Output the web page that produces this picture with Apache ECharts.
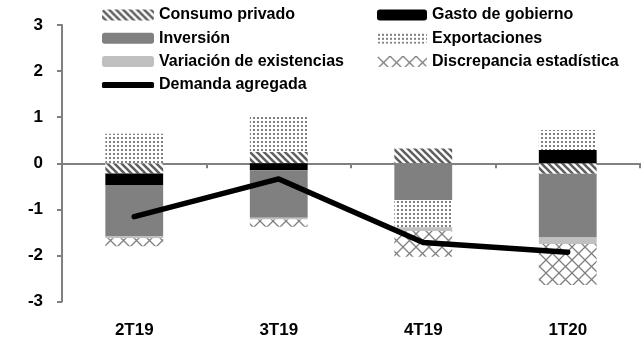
<!DOCTYPE html>
<html>
<head>
<meta charset="utf-8">
<script src="https://cdn.jsdelivr.net/npm/echarts@6/dist/echarts.min.js"></script>
<style>
  html, body { margin: 0; padding: 0; background: #fff; }
  #chart { width: 642px; height: 339px; }
</style>
</head>
<body>
<div id="chart"></div>
<script>
// datos (puntos porcentuales)
const trimestres = ['2T19', '3T19', '4T19', '1T20']
const consumoPrivado = [-0.22, 0.25, 0.32, -0.23]
const gastoGobierno = [-0.25, -0.15, 0, 0.29]
const inversion = [-1.12, -1.03, -0.80, -1.38]
const exportaciones = [0.64, 0.77, -0.59, 0.43]
const variacionExistencias = [-0.04, -0.04, -0.08, -0.14]
const discrepancia = [-0.17, -0.16, -0.56, -0.89]
const demandaAgregada = [-1.16, -0.34, -1.72, -1.93]
const yTicks = [-3, -2, -1, 0, 1, 2, 3]

const FONT = '"Liberation Sans", Arial, sans-serif'

// patrones de relleno
function makePattern(size, draw) {
  const c = document.createElement('canvas')
  c.width = size
  c.height = size
  const ctx = c.getContext('2d')
  ctx.fillStyle = '#fff'
  ctx.fillRect(0, 0, size, size)
  draw(ctx, size)
  return { image: c, repeat: 'repeat' }
}

const hatch = makePattern(7, (ctx, s) => {
  ctx.strokeStyle = '#606060'
  ctx.lineWidth = 2.6
  ctx.beginPath()
  for (let k = -1; k <= 1; k++) {
    ctx.moveTo(k * s - 1, -1)
    ctx.lineTo(k * s + s + 1, s + 1)
  }
  ctx.stroke()
})

const dots = makePattern(4, (ctx) => {
  ctx.fillStyle = '#808080'
  ctx.fillRect(1, 1, 2, 2)
})

const lattice = makePattern(13, (ctx, s) => {
  ctx.strokeStyle = '#808080'
  ctx.lineWidth = 1.3
  ctx.beginPath()
  ctx.moveTo(0, 0); ctx.lineTo(s, s)
  ctx.moveTo(s, 0); ctx.lineTo(0, s)
  ctx.stroke()
})

const chart = echarts.init(document.getElementById('chart'), null, { renderer: 'canvas' })

const barSeries = (name, data, color) => ({
  name: name,
  type: 'bar',
  stack: 'total',
  xAxisIndex: 0,
  barWidth: '40%',
  data: data,
  itemStyle: { color: color },
  emphasis: { disabled: true }
})

const legendText = { fontFamily: FONT, fontSize: 16, fontWeight: 'bold', color: '#000', lineHeight: 16 }

const option = {
  animation: false,
  backgroundColor: '#fff',
  textStyle: { fontFamily: FONT },
  grid: { left: 62, right: 2, top: 25, bottom: 37.5 },
  legend: [
    {
      left: 102, top: 7, orient: 'vertical', padding: 0,
      itemWidth: 52, itemHeight: 11, itemGap: 7.3,
      textStyle: legendText,
      data: ['Consumo privado', 'Inversión', 'Variación de existencias']
    },
    {
      left: 102, top: 77, padding: 0,
      itemWidth: 52, itemHeight: 6,
      textStyle: legendText,
      data: [{ name: 'Demanda agregada', icon: 'roundRect' }]
    },
    {
      left: 377, top: 7, orient: 'vertical', padding: 0,
      itemWidth: 50, itemHeight: 11, itemGap: 7.3,
      textStyle: legendText,
      data: ['Gasto de gobierno', 'Exportaciones', 'Discrepancia estadística']
    }
  ],
  xAxis: [
    {
      type: 'category',
      data: trimestres,
      position: 'bottom',
      axisLine: { onZero: false, show: false },
      axisTick: { show: false },
      axisLabel: { margin: 20, fontFamily: FONT, fontSize: 17, fontWeight: 'bold', color: '#000' }
    },
    {
      type: 'category',
      data: trimestres,
      position: 'top',
      axisLine: { onZero: true, lineStyle: { color: '#808080', width: 2 } },
      axisTick: { show: true, inside: true, length: 5, lineStyle: { color: '#808080', width: 2 } },
      axisLabel: { show: false }
    }
  ],
  yAxis: {
    type: 'value',
    min: yTicks[0],
    max: yTicks[yTicks.length - 1],
    interval: 1,
    splitLine: { show: false },
    axisLine: { show: true, lineStyle: { color: '#808080', width: 2 } },
    axisTick: { show: true, length: 5, lineStyle: { color: '#808080', width: 2 } },
    axisLabel: { margin: 19, fontFamily: FONT, fontSize: 17, fontWeight: 'bold', color: '#000' }
  },
  series: [
    barSeries('Consumo privado', consumoPrivado, hatch),
    barSeries('Gasto de gobierno', gastoGobierno, '#000'),
    barSeries('Inversión', inversion, '#808080'),
    barSeries('Exportaciones', exportaciones, dots),
    barSeries('Variación de existencias', variacionExistencias, '#c0c0c0'),
    barSeries('Discrepancia estadística', discrepancia, lattice),
    {
      name: 'Demanda agregada',
      type: 'line',
      data: demandaAgregada,
      symbol: 'none',
      itemStyle: { color: '#000' },
      lineStyle: { color: '#000', width: 5.5, cap: 'round', join: 'round' },
      emphasis: { disabled: true },
      z: 5
    }
  ]
}

chart.setOption(option)
</script>
</body>
</html>
